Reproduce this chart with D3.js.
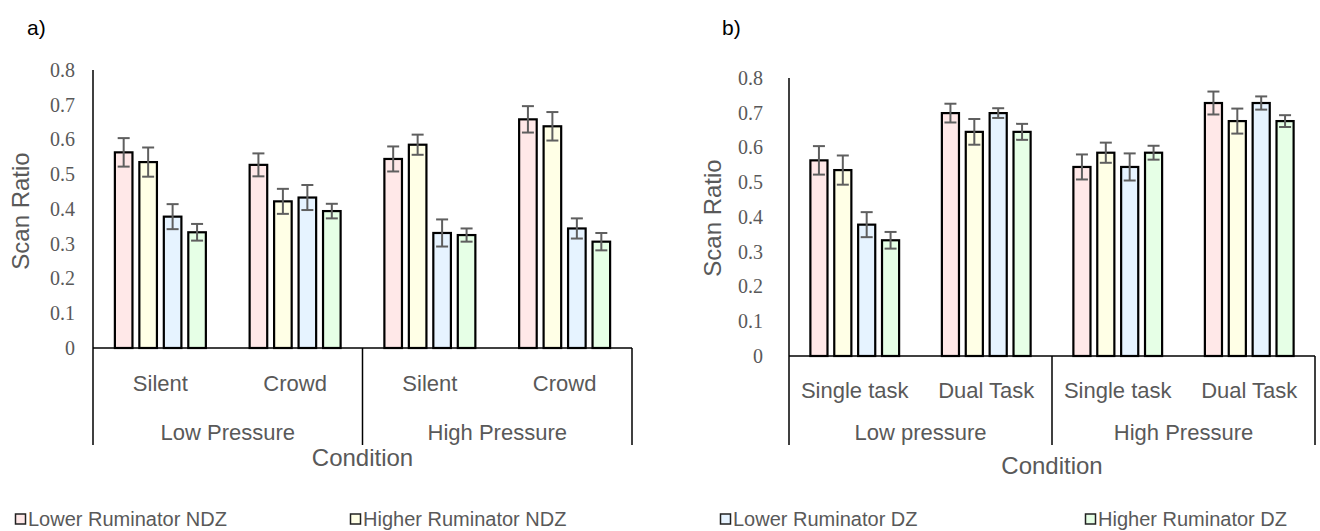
<!DOCTYPE html>
<html><head><meta charset="utf-8">
<script src="https://cdn.jsdelivr.net/npm/d3@7/dist/d3.min.js"></script>
<style>
html,body{margin:0;padding:0;background:#fff;}
svg{display:block;}
</style></head>
<body>
<svg id="chart" width="1320" height="531"></svg>
<script>
// ---------- data ----------
const seriesNames = ["Lower Ruminator NDZ", "Higher Ruminator NDZ", "Lower Ruminator DZ", "Higher Ruminator DZ"];
const seriesColors = ["#FFE8E8", "#FFFFE6", "#E6F3FF", "#E6FFE6"];
const yTickValues = [0, 0.1, 0.2, 0.3, 0.4, 0.5, 0.6, 0.7, 0.8];

// panel a)
const catsA = ["Silent", "Crowd", "Silent", "Crowd"];
const groupsA = ["Low Pressure", "High Pressure"];
const meansA = [
  [0.563, 0.535, 0.378, 0.333],
  [0.527, 0.422, 0.433, 0.394],
  [0.544, 0.585, 0.331, 0.325],
  [0.658, 0.638, 0.344, 0.306]
];
const errsA = [
  [0.041, 0.042, 0.036, 0.024],
  [0.033, 0.036, 0.036, 0.021],
  [0.036, 0.029, 0.039, 0.019],
  [0.038, 0.041, 0.029, 0.025]
];

// panel b)
const catsB = ["Single task", "Dual Task", "Single task", "Dual Task"];
const groupsB = ["Low pressure", "High Pressure"];
const meansB = [
  [0.563, 0.535, 0.378, 0.333],
  [0.699, 0.645, 0.699, 0.645],
  [0.544, 0.585, 0.544, 0.585],
  [0.728, 0.676, 0.728, 0.676]
];
const errsB = [
  [0.041, 0.042, 0.036, 0.024],
  [0.027, 0.037, 0.014, 0.023],
  [0.036, 0.029, 0.039, 0.020],
  [0.033, 0.036, 0.019, 0.017]
];

// ---------- drawing ----------
const svg = d3.select("#chart");
const GRAY = "#595959";
const SANS = "'Liberation Sans', Arial, sans-serif";
const SERIF = "'Liberation Serif', 'Times New Roman', serif";

function drawPanel(o) {
  const g = svg.append("g");
  const keys = o.cats.map((c, i) => i);
  const x0 = d3.scaleBand().domain(keys).range([o.left, o.right]).padding(0);
  const span = x0.bandwidth() * 0.69;
  const x1 = d3.scaleBand().domain(seriesNames).range([-span / 2, span / 2]).paddingInner(0.2);
  const y = d3.scaleLinear().domain([0, 0.8]).range([o.y0, o.yTop]);

  // panel letter
  g.append("text").attr("x", o.letterX).attr("y", 28).attr("dy", "0.35em")
    .attr("font-family", SANS).attr("font-size", 21).attr("fill", "#000").text(o.letter);

  // y axis ticks (labels only)
  const ya = d3.axisLeft(y).tickValues(yTickValues).tickSize(0).tickPadding(o.tickPad)
    .tickFormat(d => d === 0 ? "0" : d3.format(".1f")(d));
  const yg = g.append("g").attr("transform", `translate(${o.left},0)`).call(ya);
  yg.select(".domain").remove();
  yg.selectAll("text").attr("font-family", SERIF).attr("font-size", 20).attr("fill", GRAY);

  // bars
  const data = [];
  o.means.forEach((row, ci) => row.forEach((v, si) => data.push({ci, si, v, e: o.errs[ci][si]})));
  g.selectAll("rect.bar").data(data).enter().append("rect").attr("class", "bar")
    .attr("x", d => x0(d.ci) + x0.bandwidth() / 2 + x1(seriesNames[d.si]) + 1)
    .attr("width", x1.bandwidth() - 2)
    .attr("y", d => y(d.v))
    .attr("height", d => y(0) - y(d.v))
    .attr("fill", d => seriesColors[d.si])
    .attr("stroke", "#000").attr("stroke-width", 2.2);

  // error bars
  const eg = g.selectAll("g.err").data(data).enter().append("g").attr("class", "err")
    .attr("stroke", "#5f5f5f").attr("stroke-width", 2);
  const cx = d => x0(d.ci) + x0.bandwidth() / 2 + x1(seriesNames[d.si]) + x1.bandwidth() / 2;
  eg.append("line").attr("x1", cx).attr("x2", cx).attr("y1", d => y(d.v + d.e)).attr("y2", d => y(d.v - d.e));
  eg.append("line").attr("x1", d => cx(d) - 6).attr("x2", d => cx(d) + 6).attr("y1", d => y(d.v + d.e)).attr("y2", d => y(d.v + d.e));
  eg.append("line").attr("x1", d => cx(d) - 6).attr("x2", d => cx(d) + 6).attr("y1", d => y(d.v - d.e)).attr("y2", d => y(d.v - d.e));

  // axes lines
  const ax = g.append("g").attr("stroke", "#000").attr("stroke-width", 1.5);
  ax.append("line").attr("x1", o.left).attr("x2", o.left).attr("y1", y(0.8)).attr("y2", o.bottom);
  ax.append("line").attr("x1", o.left).attr("x2", o.right).attr("y1", y(0)).attr("y2", y(0));
  ax.append("line").attr("x1", x0(2)).attr("x2", x0(2)).attr("y1", y(0)).attr("y2", o.bottom);
  ax.append("line").attr("x1", o.right).attr("x2", o.right).attr("y1", y(0)).attr("y2", o.bottom);

  // category labels
  g.selectAll("text.cat").data(o.cats).enter().append("text").attr("class", "cat")
    .attr("x", (d, i) => x0(i) + x0.bandwidth() / 2).attr("y", o.catY).attr("dy", "0.35em")
    .attr("text-anchor", "middle").attr("font-family", SANS).attr("font-size", 22).attr("fill", GRAY).text(d => d);
  g.selectAll("text.grp").data(o.groups).enter().append("text").attr("class", "grp")
    .attr("x", (d, i) => (x0(i * 2) + x0(i * 2 + 1) + x0.bandwidth()) / 2).attr("y", o.grpY).attr("dy", "0.35em")
    .attr("text-anchor", "middle").attr("font-family", SANS).attr("font-size", 22).attr("fill", GRAY).text(d => d);

  // axis titles
  g.append("text").attr("x", (o.left + o.right) / 2).attr("y", o.titleY).attr("dy", "0.35em")
    .attr("text-anchor", "middle").attr("font-family", SANS).attr("font-size", 24).attr("fill", GRAY).text("Condition");
  g.append("text").attr("transform", `translate(${o.yTitleX},${o.yTitleY}) rotate(-90)`).attr("dy", "0.35em")
    .attr("text-anchor", "middle").attr("font-family", SANS).attr("font-size", 24).attr("fill", GRAY).text("Scan Ratio");
}

drawPanel({letter: "a)", letterX: 27, left: 93, right: 632, yTop: 70, y0: 348, bottom: 445, tickPad: 18,
  cats: catsA, groups: groupsA, means: meansA, errs: errsA,
  catY: 383, grpY: 432, titleY: 458, yTitleX: 21, yTitleY: 211});
drawPanel({letter: "b)", letterX: 722, left: 789, right: 1315, yTop: 78, y0: 356, bottom: 445, tickPad: 26,
  cats: catsB, groups: groupsB, means: meansB, errs: errsB,
  catY: 390, grpY: 432, titleY: 466, yTitleX: 713, yTitleY: 218});

// legend
const legendX = [15, 350, 720, 1085];
const lg = svg.append("g").selectAll("g").data(seriesNames).enter().append("g")
  .attr("transform", (d, i) => `translate(${legendX[i]},519)`);
lg.append("rect").attr("x", 0.5).attr("y", -5).attr("width", 10).attr("height", 10)
  .attr("fill", (d, i) => seriesColors[i]).attr("stroke", "#222").attr("stroke-width", 1.5);
lg.append("text").attr("x", 13).attr("y", 0).attr("dy", "0.35em")
  .attr("font-family", SANS).attr("font-size", 20).attr("fill", GRAY).text(d => d);
</script>
</body></html>
